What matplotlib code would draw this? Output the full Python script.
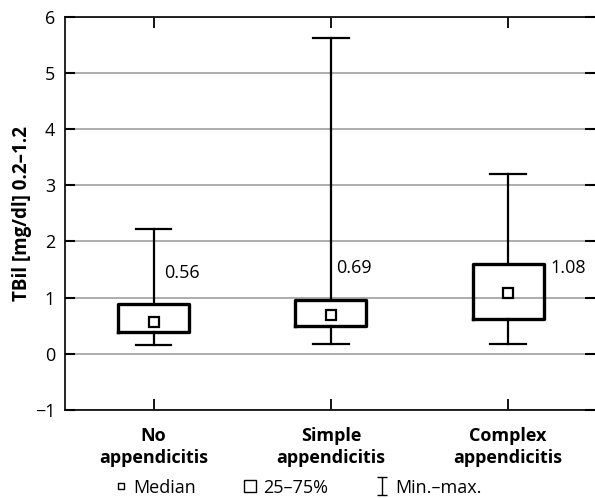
import matplotlib.pyplot as plt
from matplotlib.lines import Line2D
from matplotlib.path import Path

plt.rcParams['font.family'] = ['Open Sans', 'DejaVu Sans']

# Data
groups = ['No\nappendicitis', 'Simple\nappendicitis', 'Complex\nappendicitis']
medians = [0.56, 0.69, 1.08]
q1 = [0.39, 0.50, 0.61]
q3 = [0.89, 0.95, 1.59]
mins = [0.16, 0.18, 0.18]
maxs = [2.23, 5.62, 3.21]
median_labels = ['0.56', '0.69', '1.08']

FS = 13

fig = plt.figure(figsize=(5.95, 4.98), dpi=100)
ax = fig.add_axes([0.109, 0.177, 0.891, 0.789])

stats = []
for i in range(len(groups)):
    stats.append({'med': medians[i], 'q1': q1[i], 'q3': q3[i],
                  'whislo': mins[i], 'whishi': maxs[i], 'fliers': []})

pos = list(range(len(groups)))
ax.bxp(stats, positions=pos, widths=0.4, capwidths=0.2, showfliers=False,
       boxprops=dict(color='black', lw=2.4),
       whiskerprops=dict(color='black', lw=1.6),
       capprops=dict(color='black', lw=1.6),
       medianprops=dict(visible=False), zorder=3)
ax.plot(pos, medians, ls='none', marker='s', ms=6.5, mfc='white',
        mec='black', mew=1.6, zorder=4)

# median value labels
label_dx = [0.06, 0.03, 0.24]
label_y = [1.43, 1.52, 1.52]
for i, txt in enumerate(median_labels):
    ax.text(pos[i] + label_dx[i], label_y[i], txt, fontsize=FS,
            ha='left', va='center')

ax.set_xlim(-0.5, 2.49)
ax.set_ylim(-1, 6)
ax.set_yticks(range(-1, 7))
ax.set_yticklabels(['\u22121'] + [str(v) for v in range(0, 7)])
ax.set_xticks(pos)
ax.set_xticklabels(groups, fontweight='bold', fontsize=FS, linespacing=1.3)
ax.yaxis.grid(True, color='#a0a0a0', lw=1.2, zorder=0)
ax.set_axisbelow(True)

ax.spines['right'].set_visible(False)
for s in ['left', 'top', 'bottom']:
    ax.spines[s].set_linewidth(1.2)
ax.tick_params(axis='y', direction='in', length=7, width=1.5, labelsize=FS,
               right=True, pad=7)
ax.tick_params(axis='x', direction='in', length=8, width=1.3, top=True,
               pad=12)
ax.set_ylabel('TBil [mg/dl] 0.2\u20131.2', fontweight='bold', fontsize=13.5,
              labelpad=2)

# legend
ibeam = Path([(-0.5, -1), (0.5, -1), (0, -1), (0, 1), (-0.5, 1), (0.5, 1)],
             [Path.MOVETO, Path.LINETO, Path.MOVETO, Path.LINETO,
              Path.MOVETO, Path.LINETO])
h_med = Line2D([], [], ls='none', marker='s', ms=5, mfc='white', mec='black', mew=1)
h_box = Line2D([], [], ls='none', marker='s', ms=9, mfc='none', mec='black', mew=1)
h_rng = Line2D([], [], ls='none', marker=ibeam, ms=13, mec='black', mew=1)
fig.legend([h_med, h_box, h_rng], ['Median', '25\u201375%', 'Min.\u2013max.'],
           loc='lower center', bbox_to_anchor=(0.5, -0.03), ncol=3, frameon=False,
           fontsize=FS, handlelength=0.8, handletextpad=0.3, columnspacing=2.6)

fig.savefig('out.png', dpi=100)
